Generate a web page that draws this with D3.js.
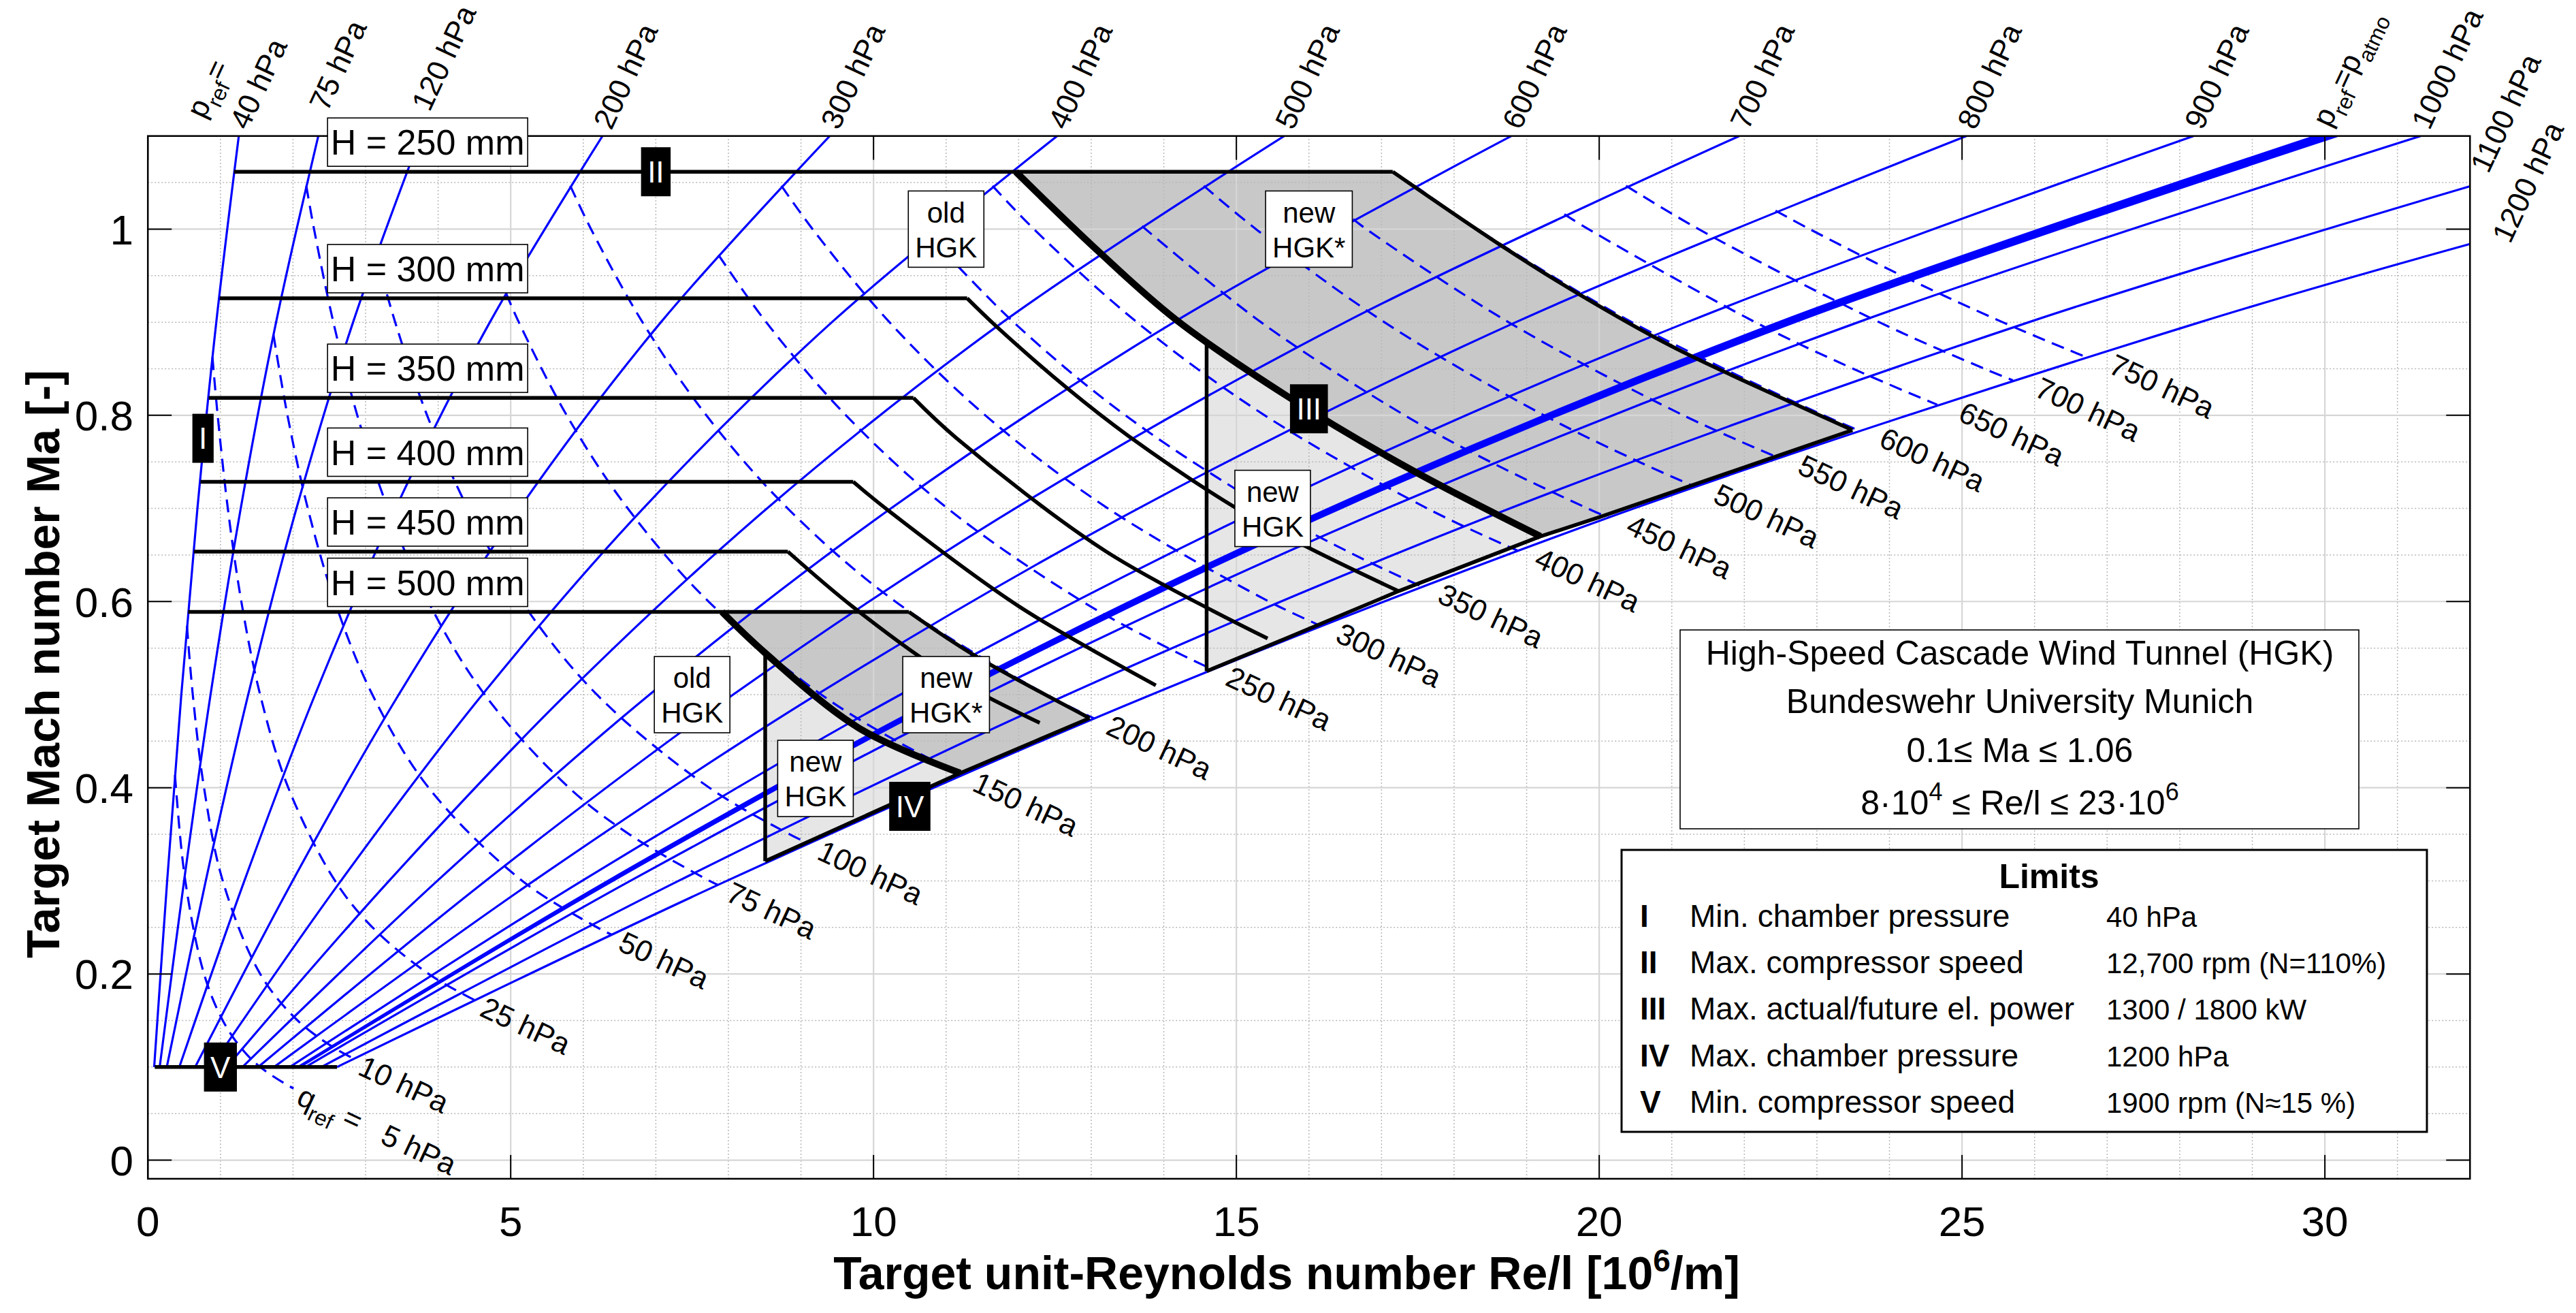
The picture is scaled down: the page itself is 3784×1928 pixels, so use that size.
<!DOCTYPE html>
<html><head><meta charset="utf-8">
<script src="https://cdn.jsdelivr.net/npm/d3@7"></script>
<style>
html,body{margin:0;padding:0;background:#fff;}
svg{display:block;font-family:"Liberation Sans",Arial,Helvetica,sans-serif;}
</style></head><body>
<svg id="chart" width="3784" height="1928"></svg>
<script>
// ---------------- DATA ----------------
const xDomain = [0, 32];
const yDomain = [-0.02, 1.1];
const xTickValues = [0, 5, 10, 15, 20, 25, 30];
const xTickLabels = ["0", "5", "10", "15", "20", "25", "30"];
const yTickValues = [0, 0.2, 0.4, 0.6, 0.8, 1];
const yTickLabels = ["0", "0.2", "0.4", "0.6", "0.8", "1"];

// constant reference static pressure lines  [Re/l (10^6/m), Ma]
const pRefLabels = ["40 hPa","75 hPa","120 hPa","200 hPa","300 hPa","400 hPa","500 hPa","600 hPa","700 hPa","800 hPa","900 hPa","1000 hPa","1100 hPa","1200 hPa"];
const pRefCurves = [
  [[0.087,0.1],[0.266,0.3],[0.461,0.5],[0.683,0.7],[0.943,0.9],[1.253,1.1]],
  [[0.163,0.1],[0.499,0.3],[0.864,0.5],[1.280,0.7],[1.767,0.9],[2.349,1.1]],
  [[0.261,0.1],[0.798,0.3],[1.383,0.5],[2.048,0.7],[2.828,0.9],[3.759,1.1]],
  [[0.434,0.1],[1.330,0.3],[2.304,0.5],[3.413,0.7],[4.713,0.9],[6.265,1.1]],
  [[0.652,0.1],[1.995,0.3],[3.457,0.5],[5.120,0.7],[7.070,0.9],[9.397,1.1]],
  [[0.869,0.1],[2.660,0.3],[4.609,0.5],[6.826,0.7],[9.426,0.9],[12.53,1.1]],
  [[1.086,0.1],[3.324,0.3],[5.761,0.5],[8.533,0.7],[11.78,0.9],[15.66,1.1]],
  [[1.303,0.1],[3.989,0.3],[6.913,0.5],[10.24,0.7],[14.14,0.9],[18.79,1.1]],
  [[1.521,0.1],[4.654,0.3],[8.065,0.5],[11.95,0.7],[16.50,0.9],[21.93,1.1]],
  [[1.738,0.1],[5.319,0.3],[9.218,0.5],[13.65,0.7],[18.85,0.9],[25.06,1.1]],
  [[1.955,0.1],[5.984,0.3],[10.37,0.5],[15.36,0.7],[21.21,0.9],[28.19,1.1]],
  [[2.172,0.1],[6.649,0.3],[11.52,0.5],[17.07,0.7],[23.57,0.9],[31.32,1.1]],
  [[2.390,0.1],[7.314,0.3],[12.67,0.5],[18.77,0.7],[25.92,0.9],[32.0,1.046]],
  [[2.607,0.1],[7.979,0.3],[13.83,0.5],[20.48,0.7],[28.28,0.9],[32.0,0.984]]
];
// p_ref = p_atmo band
const pAtmoMa     = [0.1, 0.3, 0.5, 0.7, 0.9, 1.1];
const pAtmoReLow  = [2.072, 6.343, 10.99, 16.28, 22.48, 29.88];
const pAtmoReHigh = [2.092, 6.403, 11.10, 16.43, 22.69, 30.17];

// constant dynamic pressure lines (dashed)
const qRefLabels = ["5 hPa","10 hPa","25 hPa","50 hPa","75 hPa","100 hPa","150 hPa","200 hPa","250 hPa","300 hPa","350 hPa","400 hPa","450 hPa","500 hPa","550 hPa","600 hPa","650 hPa","700 hPa","750 hPa"];
const qRefCurves = [
  [[0.374,0.4137],[0.387,0.4],[0.516,0.3],[0.774,0.2],[1.032,0.15],[1.290,0.12],[1.548,0.1],[1.935,0.08],[2.008,0.0771]],
  [[0.539,0.5737],[0.619,0.5],[0.774,0.4],[1.032,0.3],[1.548,0.2],[2.064,0.15],[2.580,0.12],[2.842,0.1089]],
  [[0.890,0.8625],[0.962,0.8],[1.102,0.7],[1.288,0.6],[1.547,0.5],[1.935,0.4],[2.580,0.3],[3.096,0.25],[3.870,0.2],[4.503,0.1719]],
  [[1.731,0.8864],[1.924,0.8],[2.204,0.7],[2.576,0.6],[3.094,0.5],[3.869,0.4],[5.160,0.3],[6.192,0.25],[6.391,0.2422]],
  [[2.183,1.0465],[2.290,1.0],[2.556,0.9],[2.886,0.8],[3.307,0.7],[3.863,0.6],[4.641,0.5],[5.804,0.4],[6.634,0.35],[7.739,0.3],[7.856,0.2956]],
  [[3.145,0.9723],[3.408,0.9],[3.848,0.8],[4.409,0.7],[5.151,0.6],[6.188,0.5],[7.738,0.4],[8.845,0.35],[9.102,0.3401]],
  [[4.936,0.9311],[5.112,0.9],[5.772,0.8],[6.613,0.7],[7.727,0.6],[9.281,0.5],[10.32,0.45],[11.22,0.4137]],
  [[5.821,1.0465],[6.107,1.0],[6.816,0.9],[7.696,0.8],[8.817,0.7],[10.30,0.6],[12.38,0.5],[13.04,0.4745]],
  [[7.863,0.9723],[8.521,0.9],[9.620,0.8],[11.02,0.7],[12.88,0.6],[14.06,0.55],[14.67,0.5271]],
  [[8.731,1.0465],[9.160,1.0],[10.22,0.9],[11.54,0.8],[13.23,0.7],[15.45,0.6],[16.17,0.5737]],
  [[10.78,0.9918],[11.93,0.9],[13.47,0.8],[15.43,0.7],[16.63,0.65],[17.56,0.6159]],
  [[11.64,1.0465],[12.21,1.0],[13.63,0.9],[15.39,0.8],[17.63,0.7],[18.88,0.6545]],
  [[13.70,1.0032],[15.34,0.9],[17.32,0.8],[18.50,0.75],[19.84,0.7],[20.13,0.6901]],
  [[14.55,1.0465],[15.27,1.0],[17.04,0.9],[19.24,0.8],[20.55,0.75],[21.32,0.7233]],
  [[16.61,1.0107],[16.79,1.0],[18.75,0.9],[21.16,0.8],[22.47,0.7544]],
  [[17.46,1.0465],[18.32,1.0],[20.45,0.9],[23.09,0.8],[23.58,0.7837]],
  [[19.52,1.0159],[19.85,1.0],[22.15,0.9],[23.50,0.85],[24.66,0.8113]],
  [[20.37,1.0465],[21.37,1.0],[23.86,0.9],[25.31,0.85],[25.70,0.8376]],
  [[22.43,1.0198],[22.90,1.0],[24.17,0.95],[25.56,0.9],[26.71,0.8625]]
];

// test section height limit lines (horizontal part + power limit curve)
const hLabels = ["H = 250 mm","H = 300 mm","H = 350 mm","H = 400 mm","H = 450 mm","H = 500 mm"];
const hLimitCurves = [
  [[1.186,1.0616],[17.155,1.0616]],
  [[0.990,0.9257],[11.29,0.9257],[11.70,0.895],[12.67,0.829],[13.51,0.778],[14.99,0.7007],[15.94,0.660],[17.24,0.611]],
  [[0.838,0.8187],[10.55,0.8187],[11.14,0.7757],[13.2,0.654],[15.43,0.5604]],
  [[0.724,0.7286],[9.72,0.7286],[10.18,0.6992],[12.0,0.595],[13.89,0.510]],
  [[0.634,0.6536],[8.82,0.6536],[9.72,0.594],[11.0,0.522],[12.29,0.4697]],
  [[0.554,0.5888],[10.487,0.5888]]
];
// old HGK power limit (thick)
const oldHgkCurves = [
  [[11.96,1.0616],[13.12,0.9746],[14.17,0.9026],[15.71,0.8201],[17.4,0.742],[19.19,0.670]],
  [[7.912,0.5888],[8.507,0.5447],[9.8,0.464],[11.195,0.4157]]
];
// new HGK* power limit
const newHgkStarCurves = [
  [[17.155,1.0616],[18.625,0.9836],[19.70,0.9311],[21.00,0.8741],[22.64,0.8141],[23.49,0.7841]],
  [[10.487,0.5888],[11.368,0.5432],[12.978,0.4748]]
];
// max chamber pressure edges
const maxChamberEdges = [
  [[14.59,0.5252],[15.71,0.5612],[17.24,0.6113],[19.19,0.670],[20.01,0.6908],[23.49,0.7841]],
  [[8.507,0.3212],[11.195,0.4157],[12.978,0.4748]]
];
// new HGK minimum Re edge
const newHgkMinRe = [
  [[14.59,0.878],[14.59,0.5252]],
  [[8.507,0.5447],[8.507,0.3212]]
];
// min compressor speed
const minSpeedLine = [[0.095,0.1],[2.607,0.1]];

// annotation boxes
const regionLabels = [["old","HGK"],["new","HGK*"],["new","HGK"],["old","HGK"],["new","HGK*"],["new","HGK"]];
const regionLabelPos = [[11.0,1.0],[16.0,1.0],[15.5,0.70],[7.5,0.50],[11.0,0.50],[9.2,0.41]];
const romanLabels = ["I","II","III","IV","V"];
const romanPos = [[0.76,0.7753],[7.0,1.0616],[16.0,0.807],[10.5,0.38],[1.0,0.1]];

const infoLines = ["High-Speed Cascade Wind Tunnel (HGK)","Bundeswehr University Munich","0.1\u2264 Ma \u2264 1.06"];
const limitsNumerals = ["I","II","III","IV","V"];
const limitsText = ["Min. chamber pressure","Max. compressor speed","Max. actual/future el. power","Max. chamber pressure","Min. compressor speed"];
const limitsValues = ["40 hPa","12,700 rpm (N=110%)","1300 / 1800 kW","1200 hPa","1900 rpm (N\u224815 %)"];

// ---------------- DRAW ----------------
const svg = d3.select("#chart");
const X0 = 217.2, X1 = 3628.3, Y0 = 1730.9, Y1 = 199.7;
const x = d3.scaleLinear().domain(xDomain).range([X0, X1]);
const y = d3.scaleLinear().domain(yDomain).range([Y0, Y1]);
const BLUE = "#0000ff";

svg.append("rect").attr("width",3784).attr("height",1928).attr("fill","#fff");
svg.append("defs").append("clipPath").attr("id","pc").append("rect")
  .attr("x",X0).attr("y",Y1).attr("width",X1-X0).attr("height",Y0-Y1);

const lin = d3.line().x(d=>x(d[0])).y(d=>y(d[1]));
const smooth = d3.line().x(d=>x(d[0])).y(d=>y(d[1])).curve(d3.curveCatmullRom.alpha(0.5));

const plot = svg.append("g").attr("clip-path","url(#pc)");

// gray regions
function regionPolys(i){
  const old = oldHgkCurves[i], star = newHgkStarCurves[i], ch = maxChamberEdges[i], vert = newHgkMinRe[i];
  const oldEnd = old[old.length-1];
  const dark = [old[0], ...star, ...ch.filter(p=>p[0]>oldEnd[0]).reverse(), ...old.slice().reverse()];
  const light = [vert[0], ...old.filter(p=>p[0]>vert[0][0]), ...ch.filter(p=>p[0]<oldEnd[0]).reverse(), vert[1]];
  return {dark, light};
}
[0,1].forEach(i=>{
  const r = regionPolys(i);
  plot.append("path").attr("d", lin(r.dark)+"Z").attr("fill","#c8c8c8");
  plot.append("path").attr("d", lin(r.light)+"Z").attr("fill","#e6e6e6");
});

// grid
const minorX = d3.range(1,32).filter(v=>v%5!==0);
const minorY = d3.range(1,22).filter(i=>i%4!==0).map(i=>i*0.05);
const majorX = [5,10,15,20,25,30];
const majorY = [0,0.2,0.4,0.6,0.8,1.0];
const grid = plot.append("g");
grid.selectAll(".mx").data(minorX).join("line").attr("x1",d=>x(d)).attr("x2",d=>x(d)).attr("y1",Y0).attr("y2",Y1)
  .attr("stroke","#b8b8b8").attr("stroke-width",1.5).attr("stroke-dasharray","2,3");
grid.selectAll(".my").data(minorY).join("line").attr("y1",d=>y(d)).attr("y2",d=>y(d)).attr("x1",X0).attr("x2",X1)
  .attr("stroke","#b8b8b8").attr("stroke-width",1.5).attr("stroke-dasharray","2,3");
grid.selectAll(".Mx").data(majorX).join("line").attr("x1",d=>x(d)).attr("x2",d=>x(d)).attr("y1",Y0).attr("y2",Y1)
  .attr("stroke","#d6d6d6").attr("stroke-width",2.2);
grid.selectAll(".My").data(majorY).join("line").attr("y1",d=>y(d)).attr("y2",d=>y(d)).attr("x1",X0).attr("x2",X1)
  .attr("stroke","#d6d6d6").attr("stroke-width",2.2);

// p_ref lines
plot.selectAll(".pline").data(pRefCurves).join("path").attr("d",d=>smooth(d))
  .attr("fill","none").attr("stroke",BLUE).attr("stroke-width",3.2);
// p_atmo band
const atmoArea = d3.area().curve(d3.curveCatmullRom.alpha(0.5))
  .y((d,i)=>y(pAtmoMa[i])).x0((d,i)=>x(pAtmoReLow[i])).x1((d,i)=>x(pAtmoReHigh[i]));
plot.append("path").attr("d", atmoArea(pAtmoMa)).attr("fill",BLUE).attr("stroke",BLUE).attr("stroke-width",3.5);

// q_ref dashed lines
plot.selectAll(".qline").data(qRefCurves).join("path").attr("d",d=>smooth(d))
  .attr("fill","none").attr("stroke",BLUE).attr("stroke-width",3.2).attr("stroke-dasharray","19,11");

// black lines
const blk = plot.append("g").attr("fill","none").attr("stroke","#000").attr("stroke-linejoin","round");
hLimitCurves.forEach(c=>{
  blk.append("path").attr("d", lin(c.slice(0,2))).attr("stroke-width",5.5);
  if (c.length>2) blk.append("path").attr("d", smooth(c.slice(1))).attr("stroke-width",5.5);
});
newHgkStarCurves.forEach(c=>blk.append("path").attr("d",smooth(c)).attr("stroke-width",5.5));
maxChamberEdges.forEach(c=>blk.append("path").attr("d",lin(c)).attr("stroke-width",5.5));
newHgkMinRe.forEach(c=>blk.append("path").attr("d",lin(c)).attr("stroke-width",5.5));
oldHgkCurves.forEach(c=>blk.append("path").attr("d",smooth(c)).attr("stroke-width",10));
blk.append("path").attr("d",lin(minSpeedLine)).attr("stroke-width",5.5);

// axes box and ticks
const ax = svg.append("g");
ax.append("rect").attr("x",X0).attr("y",Y1).attr("width",X1-X0).attr("height",Y0-Y1)
  .attr("fill","none").attr("stroke","#000").attr("stroke-width",2.5);
const TL = 35;
xTickValues.forEach(v=>{
  ax.append("line").attr("x1",x(v)).attr("x2",x(v)).attr("y1",Y0).attr("y2",Y0-TL).attr("stroke","#000").attr("stroke-width",2);
  ax.append("line").attr("x1",x(v)).attr("x2",x(v)).attr("y1",Y1).attr("y2",Y1+TL).attr("stroke","#000").attr("stroke-width",2);
});
yTickValues.forEach(v=>{
  ax.append("line").attr("y1",y(v)).attr("y2",y(v)).attr("x1",X0).attr("x2",X0+TL).attr("stroke","#000").attr("stroke-width",2);
  ax.append("line").attr("y1",y(v)).attr("y2",y(v)).attr("x1",X1).attr("x2",X1-TL).attr("stroke","#000").attr("stroke-width",2);
});
ax.selectAll(".xt").data(xTickValues).join("text").attr("x",d=>x(d)).attr("y",1815)
  .attr("text-anchor","middle").attr("font-size",62).text((d,i)=>xTickLabels[i]);
ax.selectAll(".yt").data(yTickValues).join("text").attr("x",196).attr("y",d=>y(d)).attr("dy","0.36em")
  .attr("text-anchor","end").attr("font-size",62).text((d,i)=>yTickLabels[i]);
const xl = ax.append("text").attr("x",1890).attr("y",1893).attr("text-anchor","middle")
  .attr("font-size",68).attr("font-weight","bold");
xl.append("tspan").text("Target unit-Reynolds number Re/l [10");
xl.append("tspan").attr("dy",-26).attr("font-size",46).text("6");
xl.append("tspan").attr("dy",26).text("/m]");
ax.append("text").attr("transform","translate(87,975) rotate(-90)").attr("text-anchor","middle")
  .attr("font-size",68).attr("font-weight","bold").text("Target Mach number Ma [-]");

// rich text helper: parts [text, mode] mode: 0 normal, 1 sub, 2 sup
function rich(t, parts, fs){
  let shift = 0;
  parts.forEach(([s,m])=>{
    const target = m===1 ? fs*0.32 : (m===2 ? -fs*0.42 : 0);
    const ts = t.append("tspan").attr("dy", target-shift).text(s);
    if (m) ts.attr("font-size", fs*0.72);
    shift = target;
  });
}

// top p_ref labels
const labG = svg.append("g").attr("font-size",44);
const TOPROT = -65;
pRefCurves.forEach((c,i)=>{
  const e = c[c.length-1];
  let px = x(e[0]), py = y(e[1]);
  if (i===1 || i===2){ py -= 27; }
  if (i===12){ px += 14; py -= 10; }
  if (i===13){ px += 46; py += 8; }
  const g = labG.append("g").attr("transform",`translate(${px},${py}) rotate(${TOPROT})`);
  g.append("text").attr("x",12).attr("dy","0.2em").text(pRefLabels[i]);
  if (i===0){
    const t = g.append("text").attr("x",0).attr("y",-56).attr("dy","0.2em");
    rich(t, [["p",0],["ref",1],["=",0]], 44);
  }
});
{
  const px = x(0.5*(pAtmoReLow[5]+pAtmoReHigh[5])), py = y(pAtmoMa[5]);
  const g = labG.append("g").attr("transform",`translate(${px},${py}) rotate(${TOPROT})`);
  const t = g.append("text").attr("x",12).attr("dy","0.2em");
  rich(t, [["p",0],["ref",1],["=p",0],["atmo",1]], 44);
}
// bottom q_ref labels
const BOTROT = 25;
qRefCurves.forEach((c,i)=>{
  const e = c[c.length-1];
  const px = x(e[0]) + 1.15*e[0], py = y(e[1]) + 22;
  const g = labG.append("g").attr("transform",`translate(${px},${py}) rotate(${BOTROT})`);
  const t = g.append("text");
  if (i===0){ rich(t, [["q",0],["ref",1],["\u00a0=\u00a0\u00a0\u00a0"+qRefLabels[0],0]], 44); }
  else t.text(qRefLabels[i]);
});

// H labels boxes
const boxG = svg.append("g");
hLabels.forEach((s,i)=>{
  const yl = y(hLimitCurves[i][0][1]);
  const cx = x(3.855), bw = 294, bh = 71;
  boxG.append("rect").attr("x",cx-bw/2).attr("y",yl-8-bh).attr("width",bw).attr("height",bh)
    .attr("fill","#fff").attr("stroke","#000").attr("stroke-width",1.6);
  boxG.append("text").attr("x",cx).attr("y",yl-8-bh/2).attr("dy","0.36em").attr("text-anchor","middle")
    .attr("font-size",52).text(s);
});
// region labels
regionLabels.forEach((ls,i)=>{
  const cx = x(regionLabelPos[i][0]), cy = y(regionLabelPos[i][1]);
  const t = boxG.append("text").attr("text-anchor","middle").attr("font-size",42);
  t.append("tspan").attr("x",cx).attr("y",cy-25).attr("dy","0.36em").text(ls[0]);
  t.append("tspan").attr("x",cx).attr("y",cy+26).attr("dy","0.36em").text(ls[1]);
  const w = Math.max(...t.selectAll("tspan").nodes().map(n=>n.getComputedTextLength())) + 20;
  boxG.insert("rect", function(){return t.node();}).attr("x",cx-w/2).attr("y",cy-56).attr("width",w).attr("height",112)
    .attr("fill","#fff").attr("stroke","#000").attr("stroke-width",1.6);
});
// roman boxes
romanLabels.forEach((s,i)=>{
  const cx = x(romanPos[i][0]), cy = y(romanPos[i][1]);
  const t = boxG.append("text").attr("x",cx).attr("y",cy).attr("dy","0.36em").attr("text-anchor","middle")
    .attr("font-size",44).attr("fill","#fff").text(s);
  const w = t.node().getComputedTextLength() + 19;
  boxG.insert("rect", function(){return t.node();}).attr("x",cx-w/2).attr("y",cy-36).attr("width",w).attr("height",72).attr("fill","#000");
});

// info box
const info = svg.append("g");
info.append("rect").attr("x",2468).attr("y",925).attr("width",997).attr("height",292)
  .attr("fill","#fff").attr("stroke","#000").attr("stroke-width",1.6);
const infoBase = [976,1047,1119];
infoLines.forEach((s,i)=>info.append("text").attr("x",2967).attr("y",infoBase[i]).attr("text-anchor","middle").attr("font-size",50).text(s));
{
  const t = info.append("text").attr("x",2967).attr("y",1196).attr("text-anchor","middle").attr("font-size",50);
  rich(t, [["8\u00b710",0],["4",2],[" \u2264 Re/l \u2264 23\u00b710",0],["6",2]], 50);
}
// limits box
const lim = svg.append("g");
lim.append("rect").attr("x",2382).attr("y",1248).attr("width",1183).attr("height",414)
  .attr("fill","#fff").attr("stroke","#000").attr("stroke-width",3);
lim.append("text").attr("x",3010).attr("y",1304).attr("text-anchor","middle").attr("font-size",50).attr("font-weight","bold").text("Limits");
const rowBase = [1361,1429,1497,1566,1634];
limitsNumerals.forEach((s,i)=>{
  lim.append("text").attr("x",2409).attr("y",rowBase[i]).attr("font-size",46).attr("font-weight","bold").text(s);
  lim.append("text").attr("x",2482).attr("y",rowBase[i]).attr("font-size",46).text(limitsText[i]);
  lim.append("text").attr("x",3094).attr("y",rowBase[i]).attr("font-size",42).text(limitsValues[i]);
});
</script></body></html>
